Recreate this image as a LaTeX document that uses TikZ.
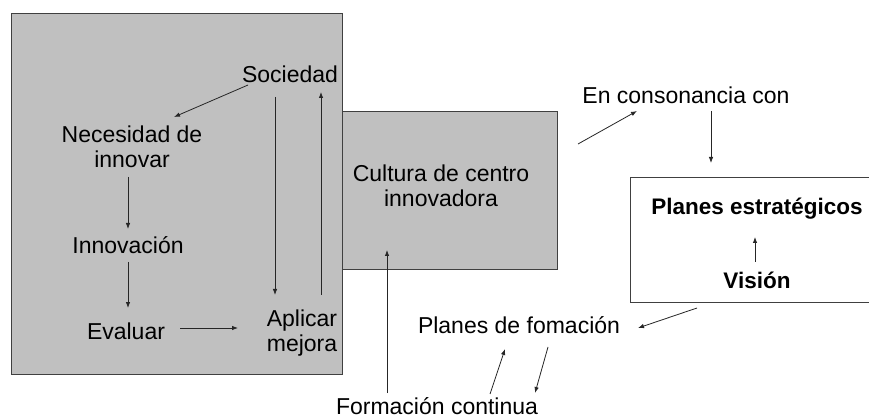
\documentclass[tikz,border=0pt]{standalone}
\usepackage{fontspec}
\setmainfont{Liberation Sans}
\usetikzlibrary{arrows.meta}
\definecolor{boxgray}{HTML}{C0C0C0}
\definecolor{edgegray}{HTML}{404040}
\begin{document}
\begin{tikzpicture}[x=1pt,y=-1pt,
  lbl/.style={inner sep=0pt, outer sep=0pt, font=\fontsize{23}{25}\selectfont, align=center},
  lblb/.style={lbl, font=\fontsize{22.5}{25}\selectfont\bfseries},
  arr/.style={-{Latex[length=6pt,width=4.5pt]}, line width=0.8pt, draw=black!85},
  panel/.style={fill=boxgray, draw=edgegray, line width=0.9pt}]
\useasboundingbox (0,0) rectangle (869,419);
\fill[white] (0,0) rectangle (869,419);
% panels
\draw[panel] (11,13) rectangle (342,374);
\draw[panel] (342,111) rectangle (557,269);
\draw[draw=edgegray, line width=0.9pt, fill=white] (630,177) rectangle (872,302);
% labels
\node[lbl, anchor=base] (soc) at (290,83) {Sociedad};
\node[lbl, anchor=north] (nec) at (132,125.5) {Necesidad de\\innovar};
\node[lbl, anchor=base] (inn) at (128,254) {Innovación};
\node[lbl, anchor=base] (eva) at (126,339) {Evaluar};
\node[lbl, anchor=north] (apl) at (302,310) {Aplicar\\mejora};
\node[lbl, anchor=north] (cul) at (441,164.5) {Cultura de centro\\innovadora};
\node[lbl, anchor=base] (con) at (686,103.5) {En consonancia con};
\node[lblb, anchor=base] (pe) at (757,215) {Planes estratégicos};
\node[lblb, anchor=base] (vis) at (757,289) {Visión};
\node[lbl, anchor=base] (pf) at (519,333) {Planes de fomación};
\node[lbl, anchor=base] (fc) at (437,414) {Formación continua};
% arrow end points
\coordinate (a1s) at (248,85);  \coordinate (a1e) at (174,117);
\coordinate (a2s) at (275,97);  \coordinate (a2e) at (275,295);
\coordinate (a3s) at (321,295); \coordinate (a3e) at (321,92);
\coordinate (a4s) at (128,177); \coordinate (a4e) at (128,229);
\coordinate (a5s) at (128,262); \coordinate (a5e) at (128,308);
\coordinate (a6s) at (180,328); \coordinate (a6e) at (238,328);
\coordinate (a7s) at (387,393); \coordinate (a7e) at (387,250);
\coordinate (a8s) at (578,144); \coordinate (a8e) at (637,111);
\coordinate (a9s) at (711,111); \coordinate (a9e) at (711,163);
\coordinate (a10s) at (755,262); \coordinate (a10e) at (755,237);
\coordinate (a11s) at (697,308); \coordinate (a11e) at (638,328);
\coordinate (a12s) at (490,394); \coordinate (a12e) at (505,349);
\coordinate (a13s) at (548,347); \coordinate (a13e) at (535,393);
% connectors
\draw[arr] (a1s) -- (a1e);
\draw[arr] (a2s) -- (a2e);
\draw[arr] (a3s) -- (a3e);
\draw[arr] (a4s) -- (a4e);
\draw[arr] (a5s) -- (a5e);
\draw[arr] (a6s) -- (a6e);
\draw[arr] (a7s) -- (a7e);
\draw[arr] (a8s) -- (a8e);
\draw[arr] (a9s) -- (a9e);
\draw[arr] (a10s) -- (a10e);
\draw[arr] (a11s) -- (a11e);
\draw[arr] (a12s) -- (a12e);
\draw[arr] (a13s) -- (a13e);
\end{tikzpicture}
\end{document}
